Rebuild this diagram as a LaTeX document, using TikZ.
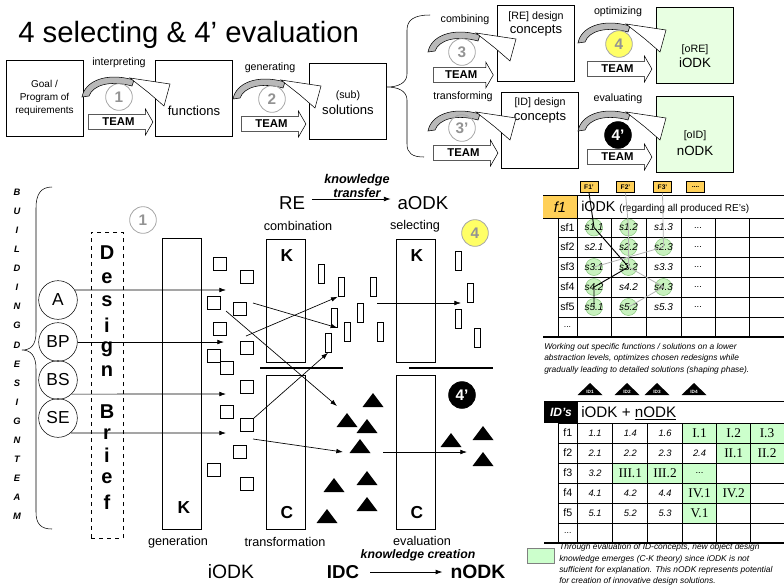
\documentclass[tikz,border=0pt]{standalone}
\usepackage{fontspec}
\setmainfont{Liberation Sans}
\newfontfamily\romancell{Liberation Serif}
\usetikzlibrary{shapes.arrows,arrows.meta}

\definecolor{boxgreen}{RGB}{232,255,226}
\definecolor{cellgreen}{RGB}{204,255,204}
\definecolor{dotgreen}{RGB}{200,242,190}
\definecolor{dotedge}{RGB}{140,200,130}
\definecolor{stepyellow}{RGB}{255,255,102}
\definecolor{tagyellow}{RGB}{255,208,88}

\newcommand{\sz}[2]{\fontsize{#1}{#2}\selectfont}
% curved step arrow, #1,#2 = lower left end of the grey band
\newcommand{\bendarrow}[2]{%
  \begin{scope}[shift={(#1,#2)}]
    \draw[fill=gray!55, line width=0.4pt] (0,1) .. controls (3,-15) and (24,-24) .. (52,-16) -- (50,-10) .. controls (28,-16) and (11,-11) .. (7,0) -- cycle;
    \draw[fill=white, line width=0.4pt] (48,-18) -- (88,-12) -- (82,10) -- (67,-3) -- cycle;
  \end{scope}}

\begin{document}
\begin{tikzpicture}[x=0.75pt,y=0.75pt,yscale=-1,xscale=1,
  topbox/.style={draw, minimum width=57.75pt, minimum height=57pt, inner sep=0pt},
  okbox/.style={topbox, fill=boxgreen},
  verb/.style={inner sep=0pt, font=\sz{8}{9}},
  numcirc/.style={circle, draw=gray!70, line width=0.6pt, minimum size=20pt, inner sep=0pt, text=gray!85, font=\bfseries\sz{11.5}{12}},
  teamarr/.style={single arrow, draw, fill=white, anchor=tail, minimum height=48.5pt, single arrow head extend=4.2pt, single arrow tip angle=120, inner xsep=2pt, inner ysep=2.4pt, font=\bfseries\sz{8.5}{9}},
  member/.style={circle, draw, minimum size=29pt, inner sep=0pt, font=\sz{13}{13}},
  kbox/.style={draw, minimum width=29.25pt, inner sep=0pt},
  sq/.style={draw, fill=white, minimum size=9.75pt, inner sep=0pt},
  bar/.style={draw, fill=white, minimum width=4.5pt, minimum height=14.25pt, inner sep=0pt},
  flow/.style={-{Latex[length=5pt,width=3.5pt]}, line width=0.5pt},
  phase/.style={inner sep=0pt, font=\sz{9.5}{10}},
  big/.style={inner sep=0pt, font=\sz{14.5}{15}},
  gdot/.style={circle, fill=dotgreen, draw=dotedge, minimum size=12.75pt, inner sep=0pt},
  sval/.style={inner sep=0pt, font=\itshape\sz{7.5}{8}},
  nval/.style={inner sep=0pt, font=\itshape\sz{7}{8}},
  rval/.style={inner sep=0pt, font=\romancell\sz{10}{10}},
  rowlbl/.style={inner sep=0pt, font=\sz{8}{8}},
  tag/.style={draw, fill=tagyellow, minimum width=13.5pt, minimum height=8.25pt, inner sep=0pt, font=\bfseries\sz{5}{5}},
  note/.style={anchor=north west, inner sep=0pt, align=left, font=\itshape\sz{6.3}{8.5}}
]
\useasboundingbox (0,0) rectangle (784,587);

% title
\node[anchor=base west, inner sep=0pt, font=\sz{22}{24}] (title) at (18,42) {4 selecting \& 4’ evaluation};

% top process row
\node[topbox, align=center, font=\sz{7.5}{10}] (goal) at (44.5,98) {Goal /\\Program of\\requirements};
\node[topbox] (func) at (194,98) {};
\node[inner sep=0pt, font=\sz{9.8}{11}] (functxt) at (194,111) {functions};
\node[topbox] (sub) at (348,101) {};
\node[verb] (subtxt) at (348,96) {(sub)};
\node[inner sep=0pt, font=\sz{9.8}{11}] (soltxt) at (348,110) {solutions};
\node[topbox] (re) at (536,43.5) {};
\node[verb] (retxt) at (536,17) {[RE] design};
\node[inner sep=0pt, font=\sz{9.8}{11}] (recon) at (536,31) {concepts};
\node[topbox] (id) at (540,130) {};
\node[verb] (idtxt) at (540,103) {[ID] design};
\node[inner sep=0pt, font=\sz{9.8}{11}] (idcon) at (540,118) {concepts};
\node[okbox] (ore) at (694.5,45) {};
\node[verb] (oretxt) at (695,50) {[oRE]};
\node[inner sep=0pt, font=\sz{10}{11}] (oreodk) at (695,63) {iODK};
\node[okbox] (oid) at (694.5,134) {};
\node[verb] (oidtxt) at (695,136) {[oID]};
\node[inner sep=0pt, font=\sz{10}{11}] (oidodk) at (695,151) {nODK};

% brace from (sub) solutions
\draw (430,15) .. controls (414,15) and (407,20) .. (407,30) -- (407,74) .. controls (407,83) and (398,87) .. (387,87) .. controls (398,87) and (407,91) .. (407,100) -- (407,144) .. controls (407,153) and (412,157) .. (424,157);

% step labels, numbers and team arrows
\node[verb] (l1) at (119,63) {interpreting};
\node[verb] (l2) at (270,68) {generating};
\node[verb] (l3) at (465,20) {combining};
\node[verb] (l3b) at (463,97) {transforming};
\node[verb] (l4) at (618,12) {optimizing};
\node[verb] (l4b) at (618,99) {evaluating};

\bendarrow{82}{96}
\bendarrow{233}{98}
\bendarrow{428}{51}
\bendarrow{428}{130}
\bendarrow{578}{42}
\bendarrow{578}{130}

\node[numcirc] (n1) at (119,97) {1};
\node[numcirc] (n2) at (272,99) {2};
\node[numcirc] (n3) at (462,52) {3};
\node[numcirc] (n3b) at (462,128) {3’};
\node[numcirc, fill=stepyellow] (n4) at (619,44) {4};
\node[numcirc, fill=black, draw=black, text=white] (n4b) at (618,135) {4’};

\node[teamarr] (t1) at (88,122) {TEAM};
\node[teamarr] (t2) at (241,124) {TEAM};
\node[teamarr, minimum height=45pt] (t3) at (433,75) {TEAM};
\node[teamarr] (t3b) at (433,153) {TEAM};
\node[teamarr] (t4) at (587,69) {TEAM};
\node[teamarr] (t4b) at (587,157) {TEAM};

% building design team
\foreach \ch [count=\i] in {B,U,I,L,D,I,N,G,D,E,S,I,G,N,T,E,A,M}
  \node[inner sep=0pt, font=\bfseries\itshape\sz{7}{7}] (bdt\i) at (17,{192+19.1*(\i-1)}) {\ch};
\draw (52,187) .. controls (41,187) and (36,194) .. (36,208) -- (36,332) .. controls (36,345) and (31,350) .. (22,350) .. controls (31,350) and (36,356) .. (36,369) -- (36,512) .. controls (36,524) and (41,529) .. (52,529);

\node[member] (A) at (58,300) {A};
\node[member] (BP) at (58,342) {BP};
\node[member] (BS) at (58,380) {BS};
\node[member] (SE) at (58,418) {SE};

% design brief
\node[draw, dashed, minimum width=24pt, minimum height=229.5pt, inner sep=0pt] (brief) at (107,385) {};
\foreach \ch/\y [count=\i] in {D/253,e/278,s/301,i/325,g/349,n/371,B/412,r/434,i/455,e/478,f/502}
  \node[inner sep=0pt, font=\bfseries\sz{15}{15}] (db\i) at (107,\y) {\ch};

% knowledge / concept spaces
\node[numcirc] (k1) at (143,220) {1};
\node[kbox, minimum height=218.25pt] (gen) at (181.5,383.5) {};
\node[inner sep=0pt, font=\bfseries\sz{13}{13}] (genk) at (184,508) {K};
\node[kbox, minimum height=92.25pt] (comb) at (285.5,300.5) {};
\node[inner sep=0pt, font=\bfseries\sz{13}{13}] (combk) at (287,256) {K};
\node[kbox, minimum height=92.25pt] (sel) at (415.5,300.5) {};
\node[inner sep=0pt, font=\bfseries\sz{13}{13}] (selk) at (417,256) {K};
\node[kbox, minimum height=115.5pt] (trans) at (285.5,452) {};
\node[inner sep=0pt, font=\bfseries\sz{13}{13}] (transc) at (287,513) {C};
\node[kbox, minimum height=115.5pt] (eval) at (415.5,452) {};
\node[inner sep=0pt, font=\bfseries\sz{13}{13}] (evalc) at (417,513) {C};
\draw[line width=1.7pt] (260,368) -- (343,368);
\draw[line width=1.7pt] (409,368) -- (493,368);

\node[phase] (lgen) at (178,542) {generation};
\node[phase] (lcomb) at (298,226) {combination};
\node[phase] (lsel) at (415,226) {selecting};
\node[phase] (ltrans) at (285,542) {transformation};
\node[phase] (leval) at (422,540.5) {evaluation};
\node[numcirc, fill=stepyellow] (k4) at (475,233) {4};
\node[numcirc, fill=black, draw=black, text=white] (k4b) at (462,395) {4’};

% generated solutions
\foreach \x/\y [count=\i] in {220/264,247/277,214/303,240/309,220/329,247/348,214/356,227/368,247/387,227/412,247/425,240/452,214/470,247/484}
  \node[sq] (sq\i) at (\x,\y) {};
\foreach \x/\y [count=\i] in {321/274,341/287,373/287,334/318,360/313,347/332,380/332,328/343,458/261,470/293,458/319,477/338}
  \node[bar] (r\i) at (\x,\y) {};
\foreach \x/\y in {373/400,347/420,367/426,360/446,367/478,334/485,367/504,327/516,451/440,483/433,483/459}
  \fill (\x-10.5,\y+7) -- (\x,\y-7) -- (\x+10.5,\y+7) -- cycle;

% team members into the brief
\coordinate (eA) at (226,290);
\coordinate (eBP) at (224,342);
\coordinate (eBS) at (226,394);
\coordinate (eSE) at (226,433);
\draw[flow] (A.31) -- (eA);
\draw[flow] (BP.east) -- (eBP);
\draw[flow] (BS.-46) -- (eBS);
\draw[flow] (SE.-50) -- (eSE);

% moves between spaces
\coordinate (p1) at (253,303);
\coordinate (p2) at (246,336);
\coordinate (p3) at (226,311);
\coordinate (q3) at (337,406);
\coordinate (p5) at (253,439);
\coordinate (q5) at (343,452);
\coordinate (p6) at (377,303);
\coordinate (q6) at (461,303);
\coordinate (p7) at (383,452);
\coordinate (q7) at (467,452);
\draw[flow] (p1) -- (r4.south east);
\draw[flow] (p2) -- (r2.south west);
\draw[flow] (p3) -- (q3);
\draw[flow] (sq11.north east) -- (r8.south);
\draw[flow] (p5) -- (q5);
\draw[flow] (p6) -- (q6);
\draw[flow] (p7) -- (q7);

% knowledge transfer / creation
\node[inner sep=0pt, font=\sz{14}{15}] (reodk) at (292,203) {RE};
\node[inner sep=0pt, font=\sz{14}{15}] (aodk) at (423,203) {aODK};
\node[inner sep=0pt, align=center, font=\bfseries\itshape\sz{9.5}{11}] (ktrans) at (357,186) {knowledge\\transfer};
\draw[flow] ([yshift=-3pt,xshift=5pt]reodk.east) -- ([yshift=-3pt,xshift=-5pt]aodk.west);
\node[big] (iodk) at (231,572) {iODK};
\node[big, font=\bfseries\sz{14}{15}] (idc) at (343,572) {IDC};
\node[big, font=\bfseries\sz{14.5}{15}] (nodk) at (478,572) {nODK};
\node[inner sep=0pt, font=\bfseries\itshape\sz{9.2}{10}] (kcreat) at (418,555) {knowledge creation};
\draw[flow] ([xshift=8pt]idc.east) -- ([xshift=-6pt]nodk.west);

% RE table
\foreach \x/\t [count=\i] in {589/F1’,625.5/F2’,662.5/F3’}
  \node[tag] (F\i) at (\x,187) {\t};
\node[tag] (F4) at (695.5,187) {....};
\fill[tagyellow] (543,195) rectangle (577,218);
\node[inner sep=0pt, font=\itshape\sz{11}{11}] (fone) at (560,207) {f1};
\node[anchor=west, inner sep=0pt] (rehead) at (581,207) {\sz{10.7}{11}iODK \sz{7.5}{8}(regarding all produced RE’s)};
\draw (543,195) -- (784,195);
\draw (543,218) -- (577,218);
\foreach \y in {218,237,257,277,297,317}
  \draw (558,\y) -- (784,\y);
\draw[line width=0.8pt] (543,337) -- (784,337);
\draw (577,195) -- (577,337);
\foreach \x in {558,611,646,681,715,749}
  \draw (\x,218) -- (\x,337);
\foreach \n/\x/\y in {11/594/227.5,12/628.5/227.5,22/628.5/247,23/663.5/247,31/594/267,32/628.5/267,41/594/287,43/663.5/287,51/594/307,52/628.5/307}
  \node[gdot] (g\n) at (\x,\y) {};
\foreach \r/\y/\a/\b/\c in {1/227.5/s1.1/s1.2/s1.3,2/247/s2.1/s2.2/s2.3,3/267/s3.1/s3.2/s3.3,4/287/s4.2/s4.2/s4.3,5/307/s5.1/s5.2/s5.3}{
  \node[rowlbl] (sf\r) at (567.5,\y) {sf\r};
  \node[sval] (v\r a) at (594,\y) {\a};
  \node[sval] (v\r b) at (628.5,\y) {\b};
  \node[sval] (v\r c) at (663.5,\y) {\c};
  \node[sval, font=\sz{7}{8}] (v\r d) at (698,\y) {...};
}
\node[rowlbl, font=\sz{6.5}{7}] (sf6) at (567.5,327) {...};
\draw[line width=0.7pt] (F1.south) -- (g11.center) -- (g32.center) -- (g41.center) -- (g51.center);
\draw[gray!60, line width=0.6pt] (F2.south) -- (g12.center) -- (g22.center) -- (g32.center) -- (g43.center) -- (g52.center);
\draw[gray!60, line width=0.6pt] (F3.south) -- (g23.center) -- (g31.center);

\node[note] (worknote) at (544,343) {Working out specific functions / solutions on a lower\\abstraction levels, optimizes chosen redesigns while\\gradually leading to detailed solutions (shaping phase).};
\foreach \x [count=\i] in {590,627,657,694}{
  \fill (\x-12.5,395) -- (\x,383) -- (\x+12.5,395) -- cycle;
  \node[inner sep=0pt, text=white, font=\bfseries\sz{3.5}{4}] (idt\i) at (\x,391.5) {ID\i};
}

% ID table
\foreach \xa/\xb/\ya in {682.3/716.7/423,716.7/750.7/423,750.7/784/423,716.7/750.7/443,750.7/784/443,612.7/647.7/463,647.7/682.3/463,682.3/716.7/463,682.3/716.7/483,716.7/750.7/483,682.3/716.7/503}
  \fill[cellgreen] (\xa,\ya) rectangle (\xb,\ya+20);
\fill (544,401) rectangle (577.3,423);
\node[inner sep=0pt, text=white, font=\bfseries\itshape\sz{9}{9}] (idhead) at (561,412) {ID’s};
\node[anchor=west, inner sep=0pt, font=\sz{11.4}{12}] (idodk) at (581,413) {iODK + \underline{nODK}};
\draw (544,401) -- (784,401);
\foreach \y in {423,443,463,483,503,523}
  \draw (558,\y) -- (784,\y);
\draw[line width=0.8pt] (544,543) -- (784,543);
\draw (577.3,401) -- (577.3,543);
\foreach \x in {558,612.7,647.7,682.3,716.7,750.7}
  \draw (\x,423) -- (\x,543);
\foreach \r/\y/\a/\b/\c in {1/433/1.1/1.4/1.6,2/453/2.1/2.2/2.3,4/493/4.1/4.2/4.4,5/513/5.1/5.2/5.3}{
  \node[rowlbl] (f\r) at (567.8,\y) {f\r};
  \node[nval] (w\r a) at (595,\y) {\a};
  \node[nval] (w\r b) at (630.3,\y) {\b};
  \node[nval] (w\r c) at (665,\y) {\c};
}
\node[rowlbl] (f3) at (567.8,473) {f3};
\node[nval] (w3a) at (595,473) {3.2};
\node[nval] (w2d) at (699.5,453) {2.4};
\node[rowlbl, font=\sz{6.5}{7}] (f6) at (567.8,533) {...};
\node[rval] (x11) at (699.5,433) {I.1};
\node[rval] (x12) at (733.7,433) {I.2};
\node[rval] (x13) at (767,433) {I.3};
\node[rval] (x21) at (733.7,453) {II.1};
\node[rval] (x22) at (767,453) {II.2};
\node[rval] (x31) at (630.3,473) {III.1};
\node[rval] (x32) at (665,473) {III.2};
\node[sval, font=\sz{7}{8}] (x33) at (699.5,473) {...};
\node[rval] (x41) at (699.5,493) {IV.1};
\node[rval] (x42) at (733.7,493) {IV.2};
\node[rval] (x51) at (699.5,513) {V.1};

% legend
\node[draw=gray, fill=cellgreen, minimum width=20.25pt, minimum height=11.25pt, inner sep=0pt] (legbox) at (540.5,555.5) {};
\node[note] (legnote) at (559,543.5) {Through evaluation of ID-concepts, new object design\\knowledge emerges (C-K theory) since iODK is not\\sufficient for explanation. This nODK represents potential\\for creation of innovative design solutions.};
\end{tikzpicture}
\end{document}
